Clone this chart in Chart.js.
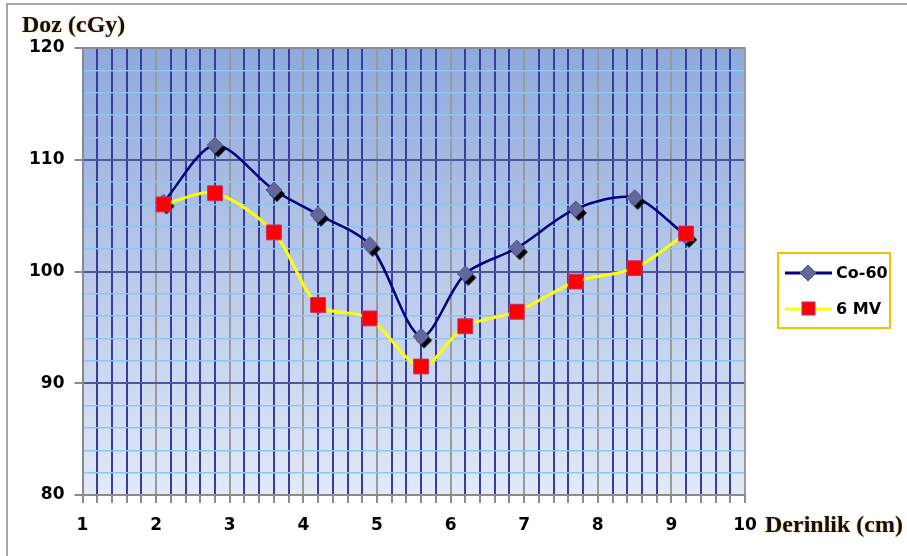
<!DOCTYPE html>
<html><head><meta charset="utf-8">
<script src="https://cdn.jsdelivr.net/npm/chart.js@4"></script>
<style>html,body{margin:0;padding:0;background:#fff}#c{display:block}</style>
</head><body>
<canvas id="c" width="907" height="556"></canvas>
<script>
// ---- data ----
const depths = [2.1, 2.8, 3.6, 4.2, 4.9, 5.6, 6.2, 6.9, 7.7, 8.5, 9.2];
const co60 = [106.2, 111.3, 107.3, 105.1, 102.4, 94.2, 99.8, 102.1, 105.6, 106.6, 103.2];
const mv6 = [106.0, 107.0, 103.5, 97.0, 95.8, 91.5, 95.1, 96.4, 99.1, 100.3, 103.4];
const seriesLabels = ['Co-60', '6 MV'];
const xRange = [1, 10];
const xStep = 0.2;
const yRange = [80, 120];
const yStep = 2;
const yMajor = 10;
const yTitle = 'Doz (cGy)';
const xTitle = 'Derinlik (cm)';

const isInt = v => Math.abs(v - Math.round(v)) < 1e-6;
const tickFont = {family: '"DejaVu Sans"', weight: 'bold', size: 17};

function diamondImg(shadow) {
  const c = document.createElement('canvas');
  c.width = 30; c.height = 30;
  const g = c.getContext('2d');
  const d = (ox, oy, fill, stroke) => {
    g.beginPath();
    g.moveTo(15 + ox, 7 + oy); g.lineTo(23 + ox, 15 + oy);
    g.lineTo(15 + ox, 23 + oy); g.lineTo(7 + ox, 15 + oy);
    g.closePath(); g.fillStyle = fill; g.fill();
    if (stroke) { g.strokeStyle = stroke; g.lineWidth = 1; g.stroke(); }
  };
  if (shadow) d(3, 4, '#000');
  d(0, 0, '#62679c', '#50558a');
  return c;
}
const coMarker = diamondImg(true);
const coLegendMarker = diamondImg(false);

const bgPlugin = {
  id: 'bg',
  beforeDraw(chart) {
    const {ctx, chartArea: a, width, height} = chart;
    ctx.save();
    ctx.fillStyle = '#fff';
    ctx.fillRect(0, 0, width, height);
    ctx.strokeStyle = '#a8a8a8'; ctx.lineWidth = 2;
    ctx.strokeRect(7, 4, width + 10, height + 10);
    const g = ctx.createLinearGradient(0, a.top, 0, a.bottom);
    g.addColorStop(0, '#8fa9dc');
    g.addColorStop(1, '#e2e9f7');
    ctx.fillStyle = g;
    ctx.fillRect(a.left, a.top, a.width, a.height);
    ctx.restore();
  },
  beforeDatasetsDraw(chart) {
    const {ctx, chartArea: a} = chart;
    ctx.save();
    ctx.strokeStyle = '#9a9a9a'; ctx.lineWidth = 1.5;
    ctx.beginPath();
    ctx.moveTo(a.left, a.top); ctx.lineTo(a.right, a.top); ctx.lineTo(a.right, a.bottom);
    ctx.stroke();
    ctx.restore();
  },
  afterDraw(chart) {
    const {ctx} = chart;
    ctx.save();
    // titles
    ctx.font = 'bold 24px "Liberation Serif"';
    ctx.fillStyle = '#111';
    ctx.shadowColor = 'rgba(240,160,60,0.8)';
    ctx.shadowBlur = 1.5;
    ctx.shadowOffsetX = -0.5;
    ctx.textBaseline = 'alphabetic';
    ctx.fillText(yTitle, 22, 32);
    ctx.fillText(xTitle, 765, 532);
    ctx.shadowBlur = 0; ctx.shadowOffsetX = 0; ctx.shadowColor = 'transparent';
    // legend
    ctx.fillStyle = '#fff';
    ctx.fillRect(778, 253, 112, 75);
    ctx.strokeStyle = '#f2c200'; ctx.lineWidth = 2;
    ctx.strokeRect(778, 253, 112, 75);
    const ds = chart.data.datasets;
    const rows = [273, 309];
    ds.forEach((d, i) => {
      const y = rows[i];
      ctx.strokeStyle = d.borderColor; ctx.lineWidth = 3;
      ctx.beginPath(); ctx.moveTo(785, y); ctx.lineTo(832, y); ctx.stroke();
      if (i === 0) {
        ctx.drawImage(coLegendMarker, 808 - 15, y - 15);
      } else {
        ctx.fillStyle = d.pointBackgroundColor;
        ctx.fillRect(802, y - 7, 13, 13);
        ctx.strokeStyle = d.pointBorderColor; ctx.lineWidth = 1;
        ctx.strokeRect(802, y - 7, 13, 13);
      }
      ctx.fillStyle = '#000';
      ctx.font = 'bold 16px "DejaVu Sans"';
      ctx.textBaseline = 'middle';
      ctx.fillText(d.label, 836, y + 1);
    });
    ctx.restore();
  }
};

new Chart(document.getElementById('c'), {
  type: 'line',
  data: {
    datasets: [
      {
        label: seriesLabels[0],
        data: depths.map((x, i) => ({x, y: co60[i]})),
        borderColor: '#000080', borderWidth: 2.5,
        pointStyle: coMarker, pointRadius: 8,
        pointBackgroundColor: '#62679c', pointBorderColor: '#50558a',
        tension: 0.3, order: 2
      },
      {
        label: seriesLabels[1],
        data: depths.map((x, i) => ({x, y: mv6[i]})),
        borderColor: '#ffff00', borderWidth: 3,
        pointStyle: 'rect', pointRadius: 10.5,
        pointBackgroundColor: '#ff0000', pointBorderColor: '#c03070', pointBorderWidth: 1,
        tension: 0.3, order: 1
      }
    ]
  },
  options: {
    responsive: false,
    animation: false,
    devicePixelRatio: 1,
    layout: {padding: {left: 7.5, top: 48, right: 162, bottom: 0}},
    plugins: {legend: {display: false}, tooltip: {enabled: false}},
    scales: {
      x: {
        type: 'linear', min: xRange[0], max: xRange[1],
        ticks: {stepSize: xStep, autoSkip: false, maxRotation: 0, minRotation: 0, padding: 12,
          color: '#000', font: tickFont,
          callback: v => isInt(v) ? String(Math.round(v)) : ''},
        grid: {
          color: c => isInt(c.tick.value) ? '#9a9a9a' : '#383c9e',
          lineWidth: 2, tickLength: 8, tickColor: '#8a8a8a'
        },
        border: {color: '#8a8a8a', width: 2},
        afterFit: s => { s.height = 61; }
      },
      y: {
        min: yRange[0], max: yRange[1],
        ticks: {stepSize: yStep, autoSkip: false, padding: 10, color: '#000', font: tickFont,
          callback: v => (Math.round(v) % yMajor === 0) ? String(Math.round(v)) : ''},
        grid: {
          color: c => (Math.round(c.tick.value) % yMajor === 0) ? '#4d5896' : '#8ec6f2',
          lineWidth: c => (Math.round(c.tick.value) % yMajor === 0) ? 2 : 1.5,
          tickLength: 8,
          tickColor: c => (Math.round(c.tick.value) % yMajor === 0) ? '#8a8a8a' : 'rgba(0,0,0,0)'
        },
        border: {color: '#8a8a8a', width: 2},
        afterFit: s => { s.width = 75; }
      }
    }
  },
  plugins: [bgPlugin]
});
</script>
</body></html>
